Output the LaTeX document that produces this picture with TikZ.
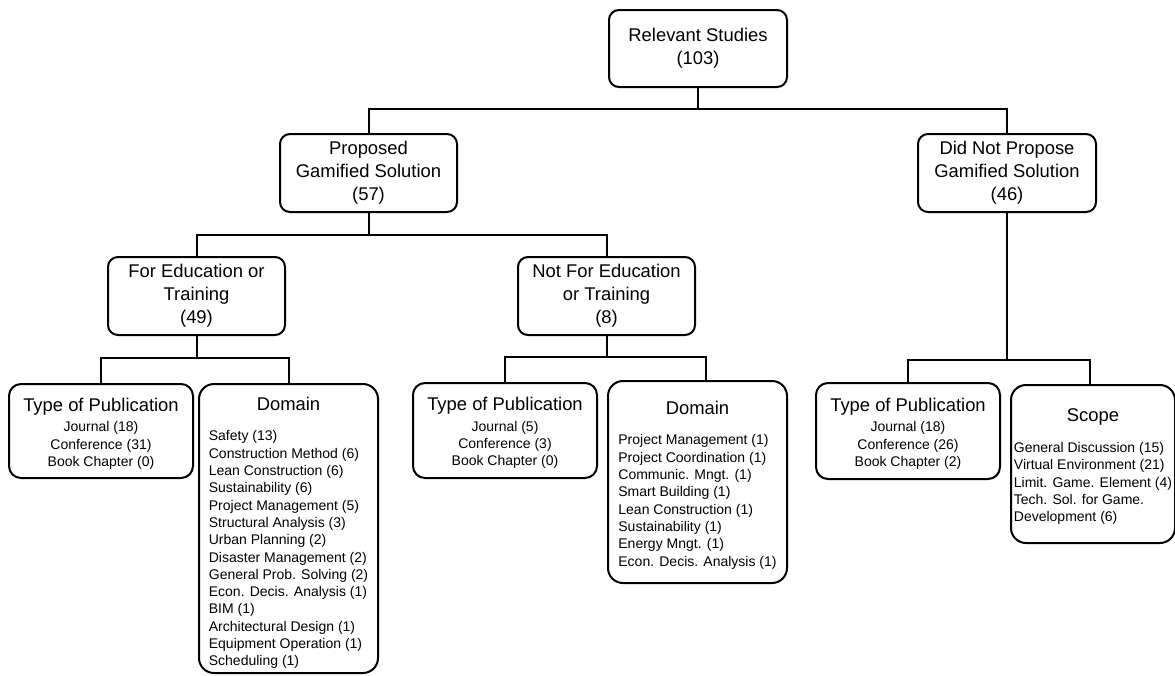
\documentclass[tikz,border=0pt]{standalone}
\usepackage{fontspec}
\setmainfont{Liberation Sans}
\newcommand\bigf{\fontsize{18.4}{23}\selectfont}
\newcommand\smallf{\fontsize{14}{17.3}\selectfont}
\begin{document}
\begin{tikzpicture}[x=1pt,y=-1pt,
  box/.style={draw, line width=2pt, rounded corners=10pt, align=center, inner sep=0pt, font=\bigf},
  listbox/.style={box, rounded corners=15pt},
  wire/.style={line width=2pt}]
\useasboundingbox (0,0) rectangle (1175,675);

\node[box, minimum width=178pt, minimum height=77pt] (root) at (698,48.5) {Relevant Studies\\(103)};
\node[box, minimum width=177pt, minimum height=78pt] (prop) at (368.5,173) {Proposed\\Gamified Solution\\(57)};
\node[box, minimum width=178pt, minimum height=78pt] (did) at (1007,173) {Did Not Propose\\Gamified Solution\\(46)};
\node[box, minimum width=177pt, minimum height=78pt] (fored) at (196.5,296) {For Education or\\Training\\(49)};
\node[box, minimum width=177pt, minimum height=78pt] (notfor) at (606.5,296) {Not For Education\\or Training\\(8)};

\node[box, rounded corners=12pt, minimum width=184pt, minimum height=94pt] (type1) at (101,431)
  {\rule{0pt}{20.7pt}Type of Publication\\[-2.5pt]\smallf\begin{tabular}[t]{@{}c@{}}Journal (18)\\Conference (31)\\Book Chapter (0)\end{tabular}};
\node[listbox, minimum width=179pt, minimum height=289pt] (dom1) at (288.5,528.5)
  {\rule{0pt}{24.5pt}Domain\\[7.5pt]\smallf\begin{tabular}[t]{@{}l@{}}Safety (13)\\Construction Method (6)\\Lean Construction (6)\\Sustainability (6)\\Project Management (5)\\Structural Analysis (3)\\Urban Planning (2)\\Disaster Management (2)\\General Prob. Solving (2)\\Econ. Decis. Analysis (1)\\BIM (1)\\Architectural Design (1)\\Equipment Operation (1)\\Scheduling (1)\end{tabular}};

\node[box, rounded corners=12pt, minimum width=184pt, minimum height=95pt] (type2) at (505,430.5)
  {\rule{0pt}{20.7pt}Type of Publication\\[-2.5pt]\smallf\begin{tabular}[t]{@{}c@{}}Journal (5)\\Conference (3)\\Book Chapter (0)\end{tabular}};
\node[listbox, minimum width=179pt, minimum height=202pt] (dom2) at (697.5,482)
  {\rule{0pt}{21.7pt}Domain\\[7.5pt]\smallf\begin{tabular}[t]{@{}l@{}}Project Management (1)\\Project Coordination (1)\\Communic. Mngt. (1)\\Smart Building (1)\\Lean Construction (1)\\Sustainability (1)\\Energy Mngt. (1)\\Econ. Decis. Analysis (1)\end{tabular}};

\node[box, rounded corners=12pt, minimum width=184pt, minimum height=96pt] (type3) at (908,431)
  {\rule{0pt}{20.7pt}Type of Publication\\[-2.5pt]\smallf\begin{tabular}[t]{@{}c@{}}Journal (18)\\Conference (26)\\Book Chapter (2)\end{tabular}};
\node[listbox, minimum width=164pt, minimum height=158pt] (scope) at (1093,464)
  {\rule{0pt}{20.7pt}Scope\\[7.5pt]\smallf\begin{tabular}[t]{@{}l@{}}General Discussion (15)\\Virtual Environment (21)\\Limit. Game. Element (4)\\Tech. Sol. for Game.\\Development (6)\end{tabular}};

\coordinate (j1) at (698,109);
\coordinate (j2) at (368.5,234.5);
\coordinate (j3) at (196.5,358);
\coordinate (j4) at (606.5,357);
\coordinate (j5) at (1007,360);

\draw[wire] (root.south) -- (j1);
\draw[wire] (prop.north) -- (prop.north |- j1) -- (did.north |- j1) -- (did.north);
\draw[wire] (prop.south) -- (j2);
\draw[wire] (fored.north) -- (fored.north |- j2) -- (notfor.north |- j2) -- (notfor.north);
\draw[wire] (fored.south) -- (j3);
\draw[wire] (type1.north) -- (type1.north |- j3) -- (dom1.north |- j3) -- (dom1.north);
\draw[wire] (notfor.south) -- (j4);
\draw[wire] (type2.north) -- (type2.north |- j4) -- ([xshift=8.5pt]dom2.north |- j4) -- ([xshift=8.5pt]dom2.north);
\draw[wire] (did.south) -- (j5);
\draw[wire] (type3.north) -- (type3.north |- j5) -- ([xshift=-3pt]scope.north |- j5) -- ([xshift=-3pt]scope.north);
\end{tikzpicture}
\end{document}
